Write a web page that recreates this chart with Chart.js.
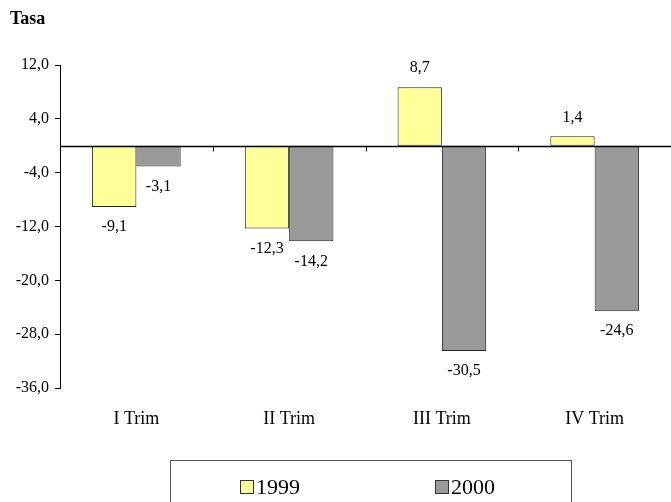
<!DOCTYPE html>
<html>
<head>
<meta charset="utf-8">
<script src="https://cdn.jsdelivr.net/npm/chart.js@4"></script>
<style>
    body { margin: 0; background: #fff; }
    #wrap { position: relative; width: 671px; height: 502px; overflow: hidden; font-family: "Liberation Serif", "Times New Roman", serif; }
    #title { position: absolute; left: 10px; top: 8px; font-size: 18px; font-weight: bold; }
    #legend { position: absolute; left: 170px; top: 460px; width: 402px; height: 60px; border: 1px solid #555; box-sizing: border-box; }
    .item { position: absolute; top: 14px; font-size: 22px; line-height: 24px; }
    .box { display: inline-block; width: 12px; height: 12px; border: 1px solid #333; margin-right: 2px; vertical-align: 0px; }
</style>
</head>
<body>
<div id="wrap">
    <canvas id="chart" width="671" height="502"></canvas>
    <div id="title">Tasa</div>
    <div id="legend">
        <div class="item" style="left:69px"><span class="box" style="background:#FFFF99"></span>1999</div>
        <div class="item" style="left:264px"><span class="box" style="background:#999999"></span>2000</div>
    </div>
</div>
<script>
const categories = ['I Trim', 'II Trim', 'III Trim', 'IV Trim'];
const values1999 = [-9.1, -12.3, 8.7, 1.4];
const values2000 = [-3.1, -14.2, -30.5, -24.6];
const yTicks = [-36, -28, -20, -12, -4, 4, 12];

function fmt(v) {
    return v.toFixed(1).replace('.', ',');
}

// zero line, boundary ticks and value labels
const extras = {
    id: 'extras',
    afterDatasetsDraw(chart) {
        const ctx = chart.ctx;
        const x = chart.scales.x;
        const y = chart.scales.y;
        const y0 = Math.round(y.getPixelForValue(0)) + 0.5;
        ctx.save();
        ctx.strokeStyle = '#000';
        ctx.lineWidth = 1.5;
        ctx.beginPath();
        ctx.moveTo(chart.chartArea.left, y0);
        ctx.lineTo(chart.chartArea.right, y0);
        ctx.stroke();
        ctx.lineWidth = 1;
        for (let i = 1; i < categories.length; i++) {
            const bx = Math.round((x.getPixelForValue(i - 1) + x.getPixelForValue(i)) / 2) + 0.5;
            ctx.beginPath();
            ctx.moveTo(bx, y0);
            ctx.lineTo(bx, y0 + 5);
            ctx.stroke();
        }
        ctx.fillStyle = '#000';
        ctx.font = '16px "Liberation Serif"';
        ctx.textAlign = 'center';
        ctx.textBaseline = 'middle';
        chart.data.datasets.forEach((ds, di) => {
            chart.getDatasetMeta(di).data.forEach((bar, i) => {
                const v = ds.data[i];
                const ty = v >= 0 ? bar.y - 19 : bar.y + 20;
                ctx.fillText(fmt(v), bar.x, ty);
            });
        });
        ctx.restore();
    }
};

new Chart(document.getElementById('chart'), {
    type: 'bar',
    data: {
        labels: categories,
        datasets: [{
            label: '1999',
            data: values1999,
            backgroundColor: '#FFFF99',
            borderColor: '#222',
            borderWidth: 1,
            borderSkipped: false
        }, {
            label: '2000',
            data: values2000,
            backgroundColor: '#999999',
            borderColor: '#222',
            borderWidth: 1,
            borderSkipped: false
        }]
    },
    options: {
        responsive: false,
        animation: false,
        categoryPercentage: 0.58,
        barPercentage: 1,
        layout: { padding: { top: 65, right: 0, left: 0, bottom: 0 } },
        plugins: {
            legend: { display: false },
            tooltip: { enabled: false }
        },
        scales: {
            x: {
                grid: { display: false },
                border: { display: false },
                ticks: { color: '#000', font: { family: 'Liberation Serif', size: 18 }, padding: 12 },
                afterFit(scale) { scale.height = 114; }
            },
            y: {
                min: -36,
                max: 12,
                afterBuildTicks(scale) { scale.ticks = yTicks.map(v => ({ value: v })); },
                grid: { drawOnChartArea: false, color: '#000', tickLength: 5 },
                border: { display: true, color: '#000', width: 1 },
                ticks: {
                    color: '#000',
                    font: { family: 'Liberation Serif', size: 16 },
                    padding: 6,
                    callback: v => fmt(v)
                },
                afterFit(scale) { scale.width = 60; }
            }
        }
    },
    plugins: [extras]
});
</script>
</body>
</html>
